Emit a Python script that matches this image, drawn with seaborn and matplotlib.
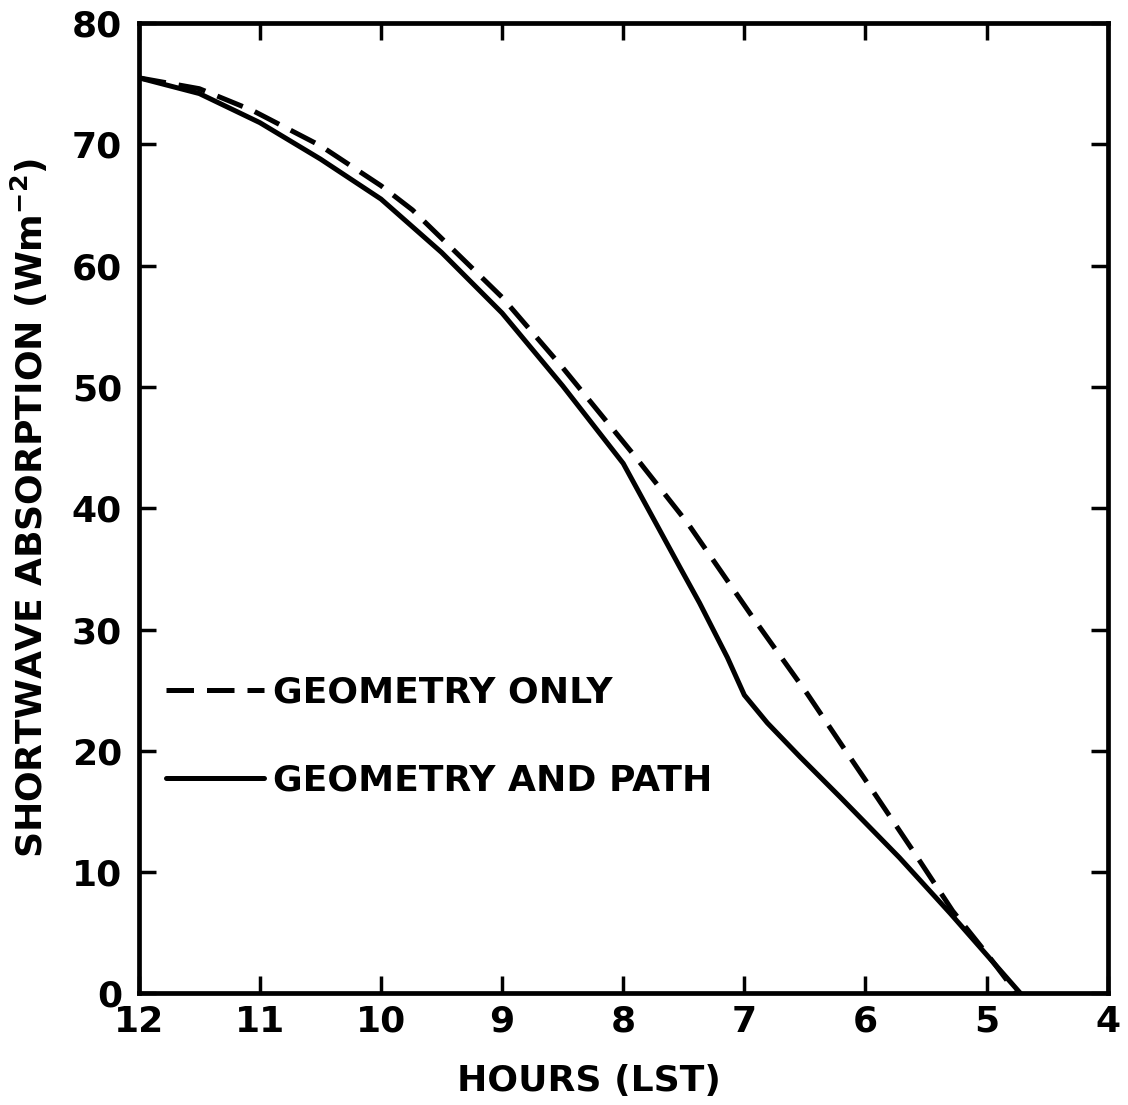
import pandas as pd
import seaborn as sns
import matplotlib
matplotlib.use('Agg')
import matplotlib.pyplot as plt

# hours (LST) and absorbed shortwave (W m-2)
hours_geom = [12.0, 11.5, 11.06, 10.5, 10.0, 9.74, 9.0, 8.5, 7.92, 7.47, 6.93,
              6.48, 6.15, 5.96, 5.61, 5.28, 5.0, 4.75]
absorb_geom = [75.5, 74.6, 72.8, 69.9, 66.6, 64.6, 57.4, 51.6, 44.5, 38.8, 31.0,
               24.7, 19.8, 17.0, 11.8, 6.8, 3.3, 0.0]

hours_path = [12.0, 11.5, 11.0, 10.5, 10.0, 9.5, 9.0, 8.5, 8.0, 7.71,
              7.53, 7.37, 7.14, 7.0, 6.81, 6.54, 6.21, 5.72, 5.3, 4.72]
absorb_path = [75.5, 74.2, 71.8, 68.8, 65.5, 61.1, 56.1, 50.1, 43.7, 38.4,
               35.1, 32.2, 27.7, 24.6, 22.3, 19.5, 16.2, 11.2, 6.6, 0.0]

labels = ['GEOMETRY ONLY', 'GEOMETRY AND PATH']

df = pd.concat([
    pd.DataFrame({'hour': hours_geom, 'sw': absorb_geom, 'case': labels[0]}),
    pd.DataFrame({'hour': hours_path, 'sw': absorb_path, 'case': labels[1]}),
])

sns.set_style('ticks')
plt.rcParams['font.family'] = ['DejaVu Sans']
plt.rcParams['axes.linewidth'] = 3.4
plt.rcParams['axes.edgecolor'] = 'black'
plt.rcParams['text.color'] = 'black'
plt.rcParams['axes.labelcolor'] = 'black'
plt.rcParams['xtick.color'] = 'black'
plt.rcParams['ytick.color'] = 'black'

fig = plt.figure(figsize=(11.28, 11.05), dpi=100)
ax = fig.add_axes([0.123, 0.101, 0.859, 0.878])

sns.lineplot(data=df, x='hour', y='sw', style='case', style_order=labels,
             dashes={labels[0]: (5.5, 2.6), labels[1]: ''},
             color='black', linewidth=3.6, sort=False, estimator=None, ax=ax)

ax.set_xlim(12, 4)
ax.set_ylim(0, 80)
ax.set_xticks(range(12, 3, -1))
ax.set_yticks(range(0, 81, 10))
ax.tick_params(direction='in', length=12, width=2.5, top=True, right=True,
               labelsize=26)
ax.tick_params(axis='x', pad=8)
ax.tick_params(axis='y', pad=12)
for lab in ax.get_xticklabels() + ax.get_yticklabels():
    lab.set_fontweight('bold')

ax.set_xlabel('HOURS (LST)', fontsize=26, fontweight='bold')
ax.set_ylabel('SHORTWAVE ABSORPTION (Wm$^{\\mathbf{-2}}$)', fontsize=26,
              fontweight='bold')
ax.xaxis.set_label_coords(0.465, -0.073)
ax.yaxis.set_label_coords(-0.092, 0.5)

leg = ax.legend(loc='upper left', bbox_to_anchor=(-0.005, 0.361), frameon=False,
                handlelength=2.7, handletextpad=0.25, labelspacing=1.5,
                prop={'weight': 'bold', 'size': 26})
for line in leg.get_lines():
    line.set_linewidth(3.6)

fig.savefig('out.png', dpi=100)
